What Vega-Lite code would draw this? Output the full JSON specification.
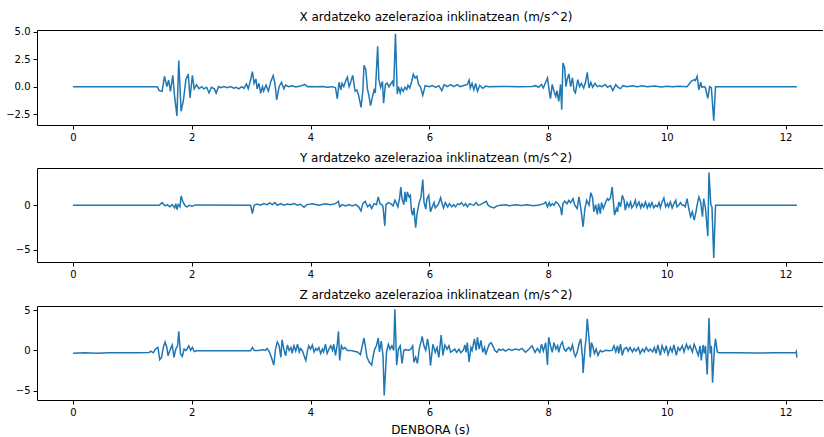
{
  "$schema": "https://vega.github.io/schema/vega-lite/v6.json",
  "padding": {"left": 5, "top": 10, "right": 0, "bottom": 0},
  "spacing": 10,
  "config": {
    "view": {"stroke": null},
    "font": "DejaVu Sans",
    "axis": {"domainColor": "#000", "domainWidth": 1, "tickColor": "#000", "tickSize": 4, "tickWidth": 1, "labelFontSize": 10, "labelColor": "#000", "labelPadding": 3, "grid": false, "titleFontWeight": "normal", "titleFontSize": 12, "titleColor": "#000", "labelOverlap": false},
    "title": {"fontSize": 12, "fontWeight": "normal", "color": "#000", "offset": 3}
  },
  "datasets": {
    "X": [
      {"t":0,"v":0},{"t":1.42,"v":0},{"t":1.45,"v":-0.36},{"t":1.5,"v":-0.42},{"t":1.54,"v":0.94},{"t":1.58,"v":0},{"t":1.61,"v":0.6},{"t":1.64,"v":-0.42},{"t":1.68,"v":1.03},{"t":1.71,"v":-0.88},{"t":1.75,"v":-2.65},{"t":1.78,"v":2.36},{"t":1.82,"v":-2.24},{"t":1.86,"v":-1.2},{"t":1.9,"v":0.64},{"t":1.94,"v":1.15},{"t":1.97,"v":-1.03},{"t":2.01,"v":1.03},{"t":2.04,"v":-0.2},{"t":2.08,"v":0.18},{"t":2.12,"v":-0.18},{"t":2.17,"v":0},{"t":2.2,"v":-0.2},{"t":2.25,"v":-0.06},{"t":2.29,"v":-0.57},{"t":2.33,"v":-0.06},{"t":2.38,"v":-0.2},{"t":2.41,"v":-0.6},{"t":2.45,"v":0},{"t":2.49,"v":-0.1},{"t":2.54,"v":0},{"t":2.6,"v":-0.1},{"t":2.65,"v":0},{"t":2.71,"v":-0.15},{"t":2.75,"v":-0.06},{"t":2.79,"v":-0.2},{"t":2.84,"v":0},{"t":2.88,"v":-0.15},{"t":2.92,"v":0.24},{"t":2.95,"v":-0.2},{"t":2.99,"v":0.6},{"t":3.02,"v":1.36},{"t":3.05,"v":0.3},{"t":3.08,"v":0.7},{"t":3.1,"v":-0.2},{"t":3.13,"v":0.3},{"t":3.16,"v":-0.6},{"t":3.19,"v":0},{"t":3.21,"v":-0.4},{"t":3.25,"v":0.15},{"t":3.29,"v":-0.4},{"t":3.33,"v":0.45},{"t":3.37,"v":1.0},{"t":3.4,"v":0.3},{"t":3.43,"v":-1.2},{"t":3.47,"v":0},{"t":3.51,"v":0.4},{"t":3.55,"v":-0.2},{"t":3.58,"v":0.15},{"t":3.63,"v":0},{"t":3.69,"v":0.07},{"t":3.75,"v":-0.02},{"t":3.83,"v":0.05},{"t":3.9,"v":0.2},{"t":3.95,"v":0},{"t":4.0,"v":0.02},{"t":4.1,"v":0},{"t":4.2,"v":0.01},{"t":4.28,"v":-0.05},{"t":4.37,"v":0},{"t":4.42,"v":-0.1},{"t":4.45,"v":-1.1},{"t":4.48,"v":0.4},{"t":4.51,"v":-0.3},{"t":4.53,"v":0.3},{"t":4.56,"v":0},{"t":4.59,"v":0.5},{"t":4.62,"v":0.85},{"t":4.65,"v":0},{"t":4.67,"v":0.3},{"t":4.71,"v":1.03},{"t":4.75,"v":-0.42},{"t":4.78,"v":-0.3},{"t":4.81,"v":-0.8},{"t":4.85,"v":-1.88},{"t":4.88,"v":-0.42},{"t":4.9,"v":1.94},{"t":4.93,"v":1.55},{"t":4.96,"v":-0.3},{"t":4.98,"v":-0.73},{"t":5.01,"v":-1.72},{"t":5.04,"v":-0.97},{"t":5.07,"v":-0.3},{"t":5.09,"v":-0.57},{"t":5.13,"v":3.67},{"t":5.15,"v":0.64},{"t":5.18,"v":-0.06},{"t":5.21,"v":0.48},{"t":5.23,"v":-1.5},{"t":5.26,"v":0.18},{"t":5.29,"v":0.33},{"t":5.32,"v":0},{"t":5.35,"v":0.24},{"t":5.38,"v":0.48},{"t":5.4,"v":0},{"t":5.43,"v":4.79},{"t":5.46,"v":-0.67},{"t":5.48,"v":0},{"t":5.51,"v":-0.57},{"t":5.53,"v":-0.12},{"t":5.56,"v":-0.42},{"t":5.59,"v":-0.06},{"t":5.62,"v":-0.27},{"t":5.64,"v":0.12},{"t":5.67,"v":-0.12},{"t":5.7,"v":0.4},{"t":5.73,"v":1.12},{"t":5.76,"v":0.79},{"t":5.79,"v":0.94},{"t":5.82,"v":0.18},{"t":5.85,"v":0},{"t":5.89,"v":-0.79},{"t":5.93,"v":0.09},{"t":6.0,"v":0},{"t":6.05,"v":0.09},{"t":6.11,"v":-0.06},{"t":6.16,"v":0.09},{"t":6.21,"v":-0.36},{"t":6.25,"v":0.18},{"t":6.3,"v":0},{"t":6.36,"v":0.18},{"t":6.41,"v":0},{"t":6.47,"v":0.18},{"t":6.52,"v":0},{"t":6.58,"v":0.1},{"t":6.64,"v":0.2},{"t":6.67,"v":0.6},{"t":6.69,"v":-0.12},{"t":6.72,"v":0.3},{"t":6.75,"v":-0.3},{"t":6.78,"v":0.3},{"t":6.81,"v":-0.42},{"t":6.85,"v":0.1},{"t":6.9,"v":-0.15},{"t":6.95,"v":0.05},{"t":7.0,"v":0},{"t":7.2,"v":0.02},{"t":7.5,"v":0},{"t":7.73,"v":0.02},{"t":7.79,"v":0.09},{"t":7.84,"v":-0.06},{"t":7.89,"v":0.2},{"t":7.92,"v":-0.12},{"t":7.96,"v":0.4},{"t":7.99,"v":0.79},{"t":8.02,"v":-0.42},{"t":8.04,"v":-1.09},{"t":8.07,"v":0.21},{"t":8.1,"v":-0.42},{"t":8.13,"v":-0.88},{"t":8.15,"v":-0.36},{"t":8.18,"v":-1.33},{"t":8.21,"v":0.2},{"t":8.23,"v":-2.09},{"t":8.25,"v":2.15},{"t":8.28,"v":1.7},{"t":8.3,"v":0},{"t":8.32,"v":0.6},{"t":8.35,"v":1.15},{"t":8.38,"v":0},{"t":8.41,"v":0.79},{"t":8.44,"v":-0.42},{"t":8.46,"v":-0.57},{"t":8.5,"v":0.64},{"t":8.53,"v":0},{"t":8.56,"v":0.3},{"t":8.6,"v":-0.12},{"t":8.63,"v":0.39},{"t":8.66,"v":1.3},{"t":8.69,"v":-0.12},{"t":8.72,"v":0.39},{"t":8.75,"v":-0.06},{"t":8.79,"v":0.3},{"t":8.83,"v":0},{"t":8.87,"v":0.1},{"t":8.91,"v":0},{"t":8.96,"v":0.2},{"t":9.0,"v":-0.06},{"t":9.05,"v":0.09},{"t":9.09,"v":-0.36},{"t":9.14,"v":0.18},{"t":9.18,"v":-0.06},{"t":9.22,"v":-0.18},{"t":9.26,"v":0.09},{"t":9.33,"v":0},{"t":9.42,"v":0.09},{"t":9.5,"v":0},{"t":9.59,"v":0.09},{"t":9.67,"v":0},{"t":9.8,"v":0.05},{"t":9.9,"v":-0.03},{"t":10.0,"v":0.04},{"t":10.1,"v":0},{"t":10.2,"v":0.03},{"t":10.34,"v":0},{"t":10.37,"v":0.2},{"t":10.41,"v":0.48},{"t":10.46,"v":0.64},{"t":10.48,"v":0.55},{"t":10.51,"v":0.94},{"t":10.54,"v":-0.3},{"t":10.57,"v":0.4},{"t":10.59,"v":-0.06},{"t":10.63,"v":0},{"t":10.65,"v":-0.12},{"t":10.69,"v":-1.06},{"t":10.72,"v":0},{"t":10.75,"v":-0.12},{"t":10.79,"v":-3.09},{"t":10.82,"v":0},{"t":12.19,"v":0}
    ],
    "Y": [
      {"t":0,"v":0},{"t":1.45,"v":0},{"t":1.5,"v":0.3},{"t":1.55,"v":-0.07},{"t":1.59,"v":0.07},{"t":1.63,"v":-0.18},{"t":1.67,"v":0.07},{"t":1.71,"v":-0.3},{"t":1.73,"v":0.18},{"t":1.75,"v":-0.48},{"t":1.77,"v":0.07},{"t":1.8,"v":-0.18},{"t":1.82,"v":1.04},{"t":1.85,"v":0.37},{"t":1.89,"v":-0.07},{"t":1.92,"v":-0.18},{"t":1.96,"v":0},{"t":2.01,"v":-0.1},{"t":2.06,"v":0.04},{"t":2.99,"v":0},{"t":3.02,"v":-0.93},{"t":3.05,"v":0},{"t":3.1,"v":0.14},{"t":3.16,"v":0},{"t":3.21,"v":0.18},{"t":3.27,"v":0.07},{"t":3.31,"v":0.26},{"t":3.36,"v":0.07},{"t":3.4,"v":0.3},{"t":3.44,"v":0},{"t":3.5,"v":0.18},{"t":3.55,"v":0},{"t":3.61,"v":0.14},{"t":3.66,"v":0.07},{"t":3.72,"v":0.18},{"t":3.78,"v":0},{"t":3.83,"v":0.11},{"t":3.89,"v":-0.22},{"t":3.94,"v":0.07},{"t":4.03,"v":0.18},{"t":4.14,"v":0},{"t":4.25,"v":0.18},{"t":4.34,"v":0.07},{"t":4.42,"v":0.18},{"t":4.47,"v":0.45},{"t":4.49,"v":-0.18},{"t":4.53,"v":0.07},{"t":4.59,"v":-0.07},{"t":4.65,"v":0.07},{"t":4.7,"v":-0.07},{"t":4.76,"v":0.07},{"t":4.81,"v":-0.18},{"t":4.85,"v":-0.64},{"t":4.88,"v":0.18},{"t":4.92,"v":0.45},{"t":4.96,"v":-0.18},{"t":5.0,"v":0.07},{"t":5.03,"v":-0.37},{"t":5.07,"v":0.18},{"t":5.11,"v":0.07},{"t":5.14,"v":0.94},{"t":5.17,"v":0.18},{"t":5.2,"v":0.07},{"t":5.22,"v":-0.18},{"t":5.25,"v":-2.32},{"t":5.27,"v":0.07},{"t":5.31,"v":0.3},{"t":5.35,"v":0.18},{"t":5.39,"v":-0.07},{"t":5.42,"v":0.56},{"t":5.44,"v":0.3},{"t":5.47,"v":-0.18},{"t":5.5,"v":0.82},{"t":5.52,"v":2.06},{"t":5.54,"v":0.74},{"t":5.57,"v":0.07},{"t":5.59,"v":1.5},{"t":5.61,"v":0.37},{"t":5.63,"v":1.5},{"t":5.66,"v":0.94},{"t":5.68,"v":1.12},{"t":5.7,"v":-0.67},{"t":5.72,"v":-1.12},{"t":5.74,"v":-0.3},{"t":5.77,"v":-2.53},{"t":5.79,"v":-1.12},{"t":5.81,"v":-0.37},{"t":5.83,"v":0.3},{"t":5.86,"v":0.94},{"t":5.89,"v":2.9},{"t":5.91,"v":0.37},{"t":5.94,"v":-0.44},{"t":5.96,"v":0.74},{"t":5.99,"v":1.12},{"t":6.02,"v":-0.74},{"t":6.05,"v":-0.18},{"t":6.08,"v":0.3},{"t":6.1,"v":-0.3},{"t":6.15,"v":0.07},{"t":6.19,"v":0.85},{"t":6.22,"v":0.07},{"t":6.24,"v":-0.3},{"t":6.27,"v":0.3},{"t":6.31,"v":-0.18},{"t":6.34,"v":0.18},{"t":6.38,"v":-0.18},{"t":6.41,"v":0.07},{"t":6.44,"v":-0.18},{"t":6.48,"v":0.18},{"t":6.51,"v":0.07},{"t":6.54,"v":0.3},{"t":6.58,"v":-0.07},{"t":6.61,"v":0.18},{"t":6.64,"v":-0.18},{"t":6.68,"v":0.18},{"t":6.71,"v":0.07},{"t":6.75,"v":0},{"t":6.79,"v":0.3},{"t":6.82,"v":0},{"t":6.86,"v":0.07},{"t":6.92,"v":0.3},{"t":6.96,"v":0.45},{"t":6.99,"v":0},{"t":7.03,"v":-0.18},{"t":7.09,"v":-0.3},{"t":7.14,"v":-0.07},{"t":7.2,"v":0},{"t":7.28,"v":0.05},{"t":7.35,"v":-0.05},{"t":7.45,"v":0.05},{"t":7.55,"v":-0.04},{"t":7.65,"v":0.05},{"t":7.75,"v":-0.05},{"t":7.85,"v":0.04},{"t":7.93,"v":0.18},{"t":7.96,"v":0.37},{"t":7.99,"v":-0.18},{"t":8.02,"v":0.3},{"t":8.04,"v":-0.07},{"t":8.07,"v":0.18},{"t":8.1,"v":0},{"t":8.13,"v":0.37},{"t":8.17,"v":0.18},{"t":8.21,"v":-0.3},{"t":8.23,"v":-1.12},{"t":8.25,"v":0.18},{"t":8.28,"v":0.45},{"t":8.32,"v":0.18},{"t":8.35,"v":0.56},{"t":8.38,"v":0.3},{"t":8.42,"v":0.74},{"t":8.45,"v":0},{"t":8.49,"v":-0.37},{"t":8.52,"v":0.94},{"t":8.55,"v":-0.3},{"t":8.59,"v":-2.43},{"t":8.62,"v":-0.37},{"t":8.65,"v":0.56},{"t":8.69,"v":0},{"t":8.72,"v":1.42},{"t":8.75,"v":0.82},{"t":8.77,"v":-0.74},{"t":8.8,"v":0.07},{"t":8.83,"v":-1.04},{"t":8.85,"v":0.18},{"t":8.88,"v":-0.94},{"t":8.9,"v":0.3},{"t":8.93,"v":-0.37},{"t":8.97,"v":0.37},{"t":9.0,"v":0.74},{"t":9.02,"v":0.56},{"t":9.05,"v":0.82},{"t":9.08,"v":2.06},{"t":9.1,"v":0.37},{"t":9.12,"v":-1.12},{"t":9.15,"v":-0.37},{"t":9.17,"v":-0.74},{"t":9.19,"v":0.37},{"t":9.22,"v":-0.18},{"t":9.25,"v":1.12},{"t":9.28,"v":0.56},{"t":9.3,"v":-0.56},{"t":9.33,"v":0.3},{"t":9.36,"v":-0.18},{"t":9.39,"v":0.37},{"t":9.41,"v":-0.3},{"t":9.44,"v":0},{"t":9.47,"v":0.56},{"t":9.49,"v":-0.18},{"t":9.53,"v":0.37},{"t":9.56,"v":-0.3},{"t":9.58,"v":0.18},{"t":9.61,"v":-0.18},{"t":9.64,"v":0.37},{"t":9.67,"v":-0.3},{"t":9.7,"v":0.18},{"t":9.72,"v":-0.18},{"t":9.75,"v":0.3},{"t":9.78,"v":-0.3},{"t":9.81,"v":0},{"t":9.84,"v":-0.18},{"t":9.87,"v":0.3},{"t":9.89,"v":-0.3},{"t":9.92,"v":0.37},{"t":9.95,"v":0.82},{"t":9.98,"v":-0.18},{"t":10.01,"v":0.18},{"t":10.03,"v":-0.18},{"t":10.06,"v":0.37},{"t":10.09,"v":-0.3},{"t":10.12,"v":0.18},{"t":10.15,"v":0.56},{"t":10.17,"v":-0.18},{"t":10.2,"v":0},{"t":10.23,"v":0.3},{"t":10.26,"v":0},{"t":10.29,"v":0},{"t":10.31,"v":-0.18},{"t":10.34,"v":0.74},{"t":10.37,"v":-0.37},{"t":10.4,"v":-1.3},{"t":10.43,"v":-0.74},{"t":10.46,"v":-1.68},{"t":10.48,"v":-1.12},{"t":10.51,"v":0},{"t":10.54,"v":0.94},{"t":10.57,"v":0.37},{"t":10.6,"v":-1.3},{"t":10.62,"v":0.74},{"t":10.65,"v":-0.3},{"t":10.69,"v":-3.5},{"t":10.71,"v":3.7},{"t":10.74,"v":0.07},{"t":10.76,"v":-0.18},{"t":10.79,"v":-5.95},{"t":10.82,"v":0},{"t":12.19,"v":0}
    ],
    "Z": [
      {"t":0,"v":-0.35},{"t":0.2,"v":-0.3},{"t":0.4,"v":-0.35},{"t":0.6,"v":-0.3},{"t":0.89,"v":-0.3},{"t":1.1,"v":-0.28},{"t":1.28,"v":-0.25},{"t":1.31,"v":-0.1},{"t":1.35,"v":-0.3},{"t":1.39,"v":0.2},{"t":1.43,"v":0.36},{"t":1.46,"v":-1.15},{"t":1.49,"v":-0.86},{"t":1.52,"v":0.36},{"t":1.55,"v":1.05},{"t":1.58,"v":0.36},{"t":1.6,"v":-0.67},{"t":1.64,"v":0.16},{"t":1.67,"v":0.67},{"t":1.7,"v":-0.86},{"t":1.73,"v":0.16},{"t":1.76,"v":0.57},{"t":1.78,"v":2.35},{"t":1.81,"v":-0.45},{"t":1.84,"v":-0.75},{"t":1.87,"v":0.16},{"t":1.9,"v":0},{"t":1.92,"v":0.16},{"t":1.95,"v":0.57},{"t":1.98,"v":0},{"t":2.01,"v":0.36},{"t":2.04,"v":-0.16},{"t":2.08,"v":-0.05},{"t":2.5,"v":-0.05},{"t":2.99,"v":-0.05},{"t":3.02,"v":0.36},{"t":3.05,"v":0},{"t":3.13,"v":0},{"t":3.2,"v":0.08},{"t":3.24,"v":0},{"t":3.27,"v":0.24},{"t":3.31,"v":-0.24},{"t":3.34,"v":-0.86},{"t":3.38,"v":-1.82},{"t":3.41,"v":0.16},{"t":3.44,"v":1.05},{"t":3.47,"v":0.57},{"t":3.5,"v":-0.86},{"t":3.52,"v":1.32},{"t":3.55,"v":0.16},{"t":3.58,"v":-0.67},{"t":3.61,"v":0.67},{"t":3.64,"v":0},{"t":3.67,"v":0.36},{"t":3.69,"v":-0.38},{"t":3.72,"v":0.57},{"t":3.75,"v":-0.1},{"t":3.78,"v":0.76},{"t":3.81,"v":-0.19},{"t":3.83,"v":0.24},{"t":3.86,"v":0},{"t":3.89,"v":-0.62},{"t":3.92,"v":-1.24},{"t":3.95,"v":0},{"t":3.97,"v":0.57},{"t":4.0,"v":0.16},{"t":4.03,"v":0.67},{"t":4.06,"v":-0.19},{"t":4.09,"v":0.24},{"t":4.11,"v":0},{"t":4.14,"v":0.36},{"t":4.17,"v":-0.38},{"t":4.2,"v":0.16},{"t":4.22,"v":-0.19},{"t":4.25,"v":0.76},{"t":4.28,"v":-0.38},{"t":4.31,"v":0.16},{"t":4.34,"v":0.57},{"t":4.37,"v":0},{"t":4.39,"v":0.76},{"t":4.42,"v":-0.62},{"t":4.45,"v":0.76},{"t":4.47,"v":2.35},{"t":4.49,"v":-1.24},{"t":4.52,"v":0.57},{"t":4.55,"v":0.16},{"t":4.58,"v":0.36},{"t":4.62,"v":0},{"t":4.67,"v":0},{"t":4.73,"v":-0.1},{"t":4.79,"v":-0.19},{"t":4.84,"v":-0.53},{"t":4.87,"v":0.57},{"t":4.9,"v":1.53},{"t":4.93,"v":0.16},{"t":4.95,"v":-0.86},{"t":4.99,"v":-1.48},{"t":5.03,"v":-1.82},{"t":5.05,"v":-0.86},{"t":5.08,"v":0.16},{"t":5.11,"v":0.57},{"t":5.14,"v":1.53},{"t":5.16,"v":-0.19},{"t":5.19,"v":1.15},{"t":5.22,"v":-0.62},{"t":5.24,"v":-5.6},{"t":5.28,"v":-0.19},{"t":5.31,"v":0.76},{"t":5.34,"v":0.16},{"t":5.37,"v":0.57},{"t":5.4,"v":0},{"t":5.42,"v":5.1},{"t":5.45,"v":-1.82},{"t":5.48,"v":0.16},{"t":5.51,"v":0.57},{"t":5.54,"v":-1.63},{"t":5.57,"v":0},{"t":5.6,"v":0.1},{"t":5.65,"v":0},{"t":5.69,"v":0.16},{"t":5.72,"v":0.57},{"t":5.74,"v":-1.48},{"t":5.77,"v":-0.86},{"t":5.8,"v":-1.63},{"t":5.83,"v":0.16},{"t":5.86,"v":1.05},{"t":5.88,"v":1.72},{"t":5.91,"v":0.57},{"t":5.94,"v":0},{"t":5.97,"v":1.43},{"t":6.0,"v":0},{"t":6.02,"v":-1.9},{"t":6.06,"v":0.76},{"t":6.1,"v":-0.24},{"t":6.13,"v":0.36},{"t":6.16,"v":-0.86},{"t":6.2,"v":1.9},{"t":6.23,"v":-0.62},{"t":6.26,"v":0.67},{"t":6.3,"v":0.16},{"t":6.33,"v":0.57},{"t":6.36,"v":-0.24},{"t":6.4,"v":0},{"t":6.43,"v":0.16},{"t":6.46,"v":-0.24},{"t":6.5,"v":0.16},{"t":6.53,"v":-0.29},{"t":6.57,"v":0},{"t":6.6,"v":0.67},{"t":6.62,"v":-0.24},{"t":6.64,"v":0.96},{"t":6.67,"v":-1.43},{"t":6.7,"v":0.36},{"t":6.72,"v":0},{"t":6.76,"v":1.43},{"t":6.79,"v":0},{"t":6.81,"v":1.63},{"t":6.84,"v":0.16},{"t":6.87,"v":1.24},{"t":6.9,"v":-0.24},{"t":6.93,"v":0.36},{"t":6.95,"v":-0.53},{"t":6.98,"v":0.16},{"t":7.01,"v":0.76},{"t":7.04,"v":0.96},{"t":7.07,"v":0.57},{"t":7.1,"v":0},{"t":7.14,"v":-0.24},{"t":7.17,"v":0.16},{"t":7.2,"v":0},{"t":7.24,"v":0.16},{"t":7.28,"v":-0.1},{"t":7.34,"v":0.16},{"t":7.39,"v":0},{"t":7.45,"v":0.16},{"t":7.51,"v":0.05},{"t":7.56,"v":0.24},{"t":7.62,"v":-0.24},{"t":7.68,"v":0.16},{"t":7.73,"v":0.57},{"t":7.78,"v":-0.24},{"t":7.82,"v":0.24},{"t":7.86,"v":-0.24},{"t":7.89,"v":0.76},{"t":7.92,"v":-0.1},{"t":7.96,"v":0.96},{"t":7.99,"v":-1.82},{"t":8.01,"v":1.63},{"t":8.04,"v":0.57},{"t":8.07,"v":-0.24},{"t":8.1,"v":0.96},{"t":8.13,"v":0.16},{"t":8.16,"v":0.57},{"t":8.18,"v":-0.24},{"t":8.21,"v":0.67},{"t":8.24,"v":1.05},{"t":8.27,"v":0.16},{"t":8.3,"v":-0.1},{"t":8.32,"v":0.16},{"t":8.35,"v":0.36},{"t":8.38,"v":0},{"t":8.41,"v":0.67},{"t":8.44,"v":-0.38},{"t":8.46,"v":-0.76},{"t":8.49,"v":-0.24},{"t":8.52,"v":0.76},{"t":8.55,"v":1.43},{"t":8.58,"v":-0.86},{"t":8.59,"v":-2.8},{"t":8.62,"v":0.16},{"t":8.64,"v":1.53},{"t":8.66,"v":3.9},{"t":8.69,"v":1.43},{"t":8.71,"v":-0.86},{"t":8.73,"v":0.96},{"t":8.75,"v":0.57},{"t":8.78,"v":-0.38},{"t":8.81,"v":0.16},{"t":8.84,"v":-0.62},{"t":8.88,"v":0},{"t":8.91,"v":-0.19},{"t":8.97,"v":0},{"t":9.02,"v":-0.05},{"t":9.08,"v":0},{"t":9.11,"v":0.57},{"t":9.14,"v":-0.19},{"t":9.17,"v":0.57},{"t":9.19,"v":-0.38},{"t":9.22,"v":0.76},{"t":9.25,"v":-0.62},{"t":9.28,"v":0.16},{"t":9.32,"v":0.36},{"t":9.35,"v":-0.1},{"t":9.38,"v":0.36},{"t":9.42,"v":-0.19},{"t":9.45,"v":0.24},{"t":9.48,"v":-0.1},{"t":9.52,"v":0.36},{"t":9.55,"v":-0.38},{"t":9.59,"v":0.16},{"t":9.62,"v":-0.19},{"t":9.65,"v":0.36},{"t":9.69,"v":-0.1},{"t":9.72,"v":0.16},{"t":9.76,"v":-0.19},{"t":9.79,"v":0.36},{"t":9.82,"v":-0.38},{"t":9.85,"v":0.67},{"t":9.89,"v":-0.62},{"t":9.92,"v":0.57},{"t":9.96,"v":-0.19},{"t":9.99,"v":0.57},{"t":10.02,"v":-0.53},{"t":10.06,"v":0.36},{"t":10.09,"v":-0.19},{"t":10.12,"v":0.67},{"t":10.16,"v":-0.62},{"t":10.19,"v":0.36},{"t":10.22,"v":0},{"t":10.26,"v":0.57},{"t":10.29,"v":-0.19},{"t":10.33,"v":0.76},{"t":10.36,"v":0.16},{"t":10.39,"v":0.57},{"t":10.43,"v":-0.19},{"t":10.46,"v":0.76},{"t":10.49,"v":0.16},{"t":10.53,"v":-0.62},{"t":10.56,"v":0.57},{"t":10.58,"v":-1.24},{"t":10.61,"v":0.67},{"t":10.63,"v":-0.38},{"t":10.65,"v":0.57},{"t":10.68,"v":-3.0},{"t":10.71,"v":4.0},{"t":10.73,"v":-0.38},{"t":10.75,"v":0.57},{"t":10.77,"v":-4.0},{"t":10.8,"v":0.16},{"t":10.82,"v":1.43},{"t":10.85,"v":-0.19},{"t":10.88,"v":-0.29},{"t":11.2,"v":-0.3},{"t":11.5,"v":-0.32},{"t":11.8,"v":-0.3},{"t":12.17,"v":-0.3},{"t":12.18,"v":-0.15},{"t":12.19,"v":-0.9}
    ]
  },
  "vconcat": [
    {
      "title": {"text": "X ardatzeko azelerazioa inklinatzean (m/s^2)", "dx": 6},
      "width": 786, "height": 95,
      "data": {"name": "X"},
      "layer": [
        {"mark": {"type": "line", "color": "#1f77b4", "strokeWidth": 1.5, "clip": true},
         "encoding": {
           "x": {"field": "t", "type": "quantitative", "scale": {"domain": [-0.607, 12.63], "nice": false, "zero": false}, "axis": {"values": [0,2,4,6,8,10,12], "title": null}},
           "y": {"field": "v", "type": "quantitative", "scale": {"domain": [-3.48, 5.14], "nice": false, "zero": false}, "axis": {"values": [-2.5,0,2.5,5], "format": ".1f", "title": null}}
         }},
        {"mark": {"type": "line", "opacity": 0},
         "encoding": {
           "x": {"field": "t", "type": "quantitative", "axis": {"orient": "top", "labels": false, "ticks": false, "title": null, "minExtent": 0, "maxExtent": 0, "offset": 0}},
           "y": {"field": "v", "type": "quantitative", "axis": {"values": [-2.5,0,2.5,5], "format": ".1f", "title": null}}
         }}
      ],
      "resolve": {"axis": {"x": "independent"}}
    },
    {
      "title": {"text": "Y ardatzeko azelerazioa inklinatzean (m/s^2)", "dx": 6},
      "width": 786, "height": 94,
      "data": {"name": "Y"},
      "layer": [
        {"mark": {"type": "line", "color": "#1f77b4", "strokeWidth": 1.5, "clip": true},
         "encoding": {
           "x": {"field": "t", "type": "quantitative", "scale": {"domain": [-0.607, 12.63], "nice": false, "zero": false}, "axis": {"values": [0,2,4,6,8,10,12], "title": null}},
           "y": {"field": "v", "type": "quantitative", "scale": {"domain": [-6.4, 4.2], "nice": false, "zero": false}, "axis": {"values": [-5,0], "title": null}}
         }},
        {"mark": {"type": "line", "opacity": 0},
         "encoding": {
           "x": {"field": "t", "type": "quantitative", "axis": {"orient": "top", "labels": false, "ticks": false, "title": null, "minExtent": 0, "maxExtent": 0, "offset": 0}},
           "y": {"field": "v", "type": "quantitative", "axis": {"values": [-5,0], "title": null}}
         }}
      ],
      "resolve": {"axis": {"x": "independent"}}
    },
    {
      "title": {"text": "Z ardatzeko azelerazioa inklinatzean (m/s^2)", "dx": 6},
      "width": 786, "height": 94,
      "data": {"name": "Z"},
      "layer": [
        {"mark": {"type": "line", "color": "#1f77b4", "strokeWidth": 1.5, "clip": true},
         "encoding": {
           "x": {"field": "t", "type": "quantitative", "scale": {"domain": [-0.607, 12.63], "nice": false, "zero": false}, "axis": {"values": [0,2,4,6,8,10,12], "title": "DENBORA (s)", "titlePadding": 7}},
           "y": {"field": "v", "type": "quantitative", "scale": {"domain": [-6.15, 5.5], "nice": false, "zero": false}, "axis": {"values": [-5,0,5], "title": null}}
         }},
        {"mark": {"type": "line", "opacity": 0},
         "encoding": {
           "x": {"field": "t", "type": "quantitative", "axis": {"orient": "top", "labels": false, "ticks": false, "title": null, "minExtent": 0, "maxExtent": 0, "offset": 0}},
           "y": {"field": "v", "type": "quantitative", "axis": {"values": [-5,0,5], "title": null}}
         }}
      ],
      "resolve": {"axis": {"x": "independent"}}
    }
  ]
}
